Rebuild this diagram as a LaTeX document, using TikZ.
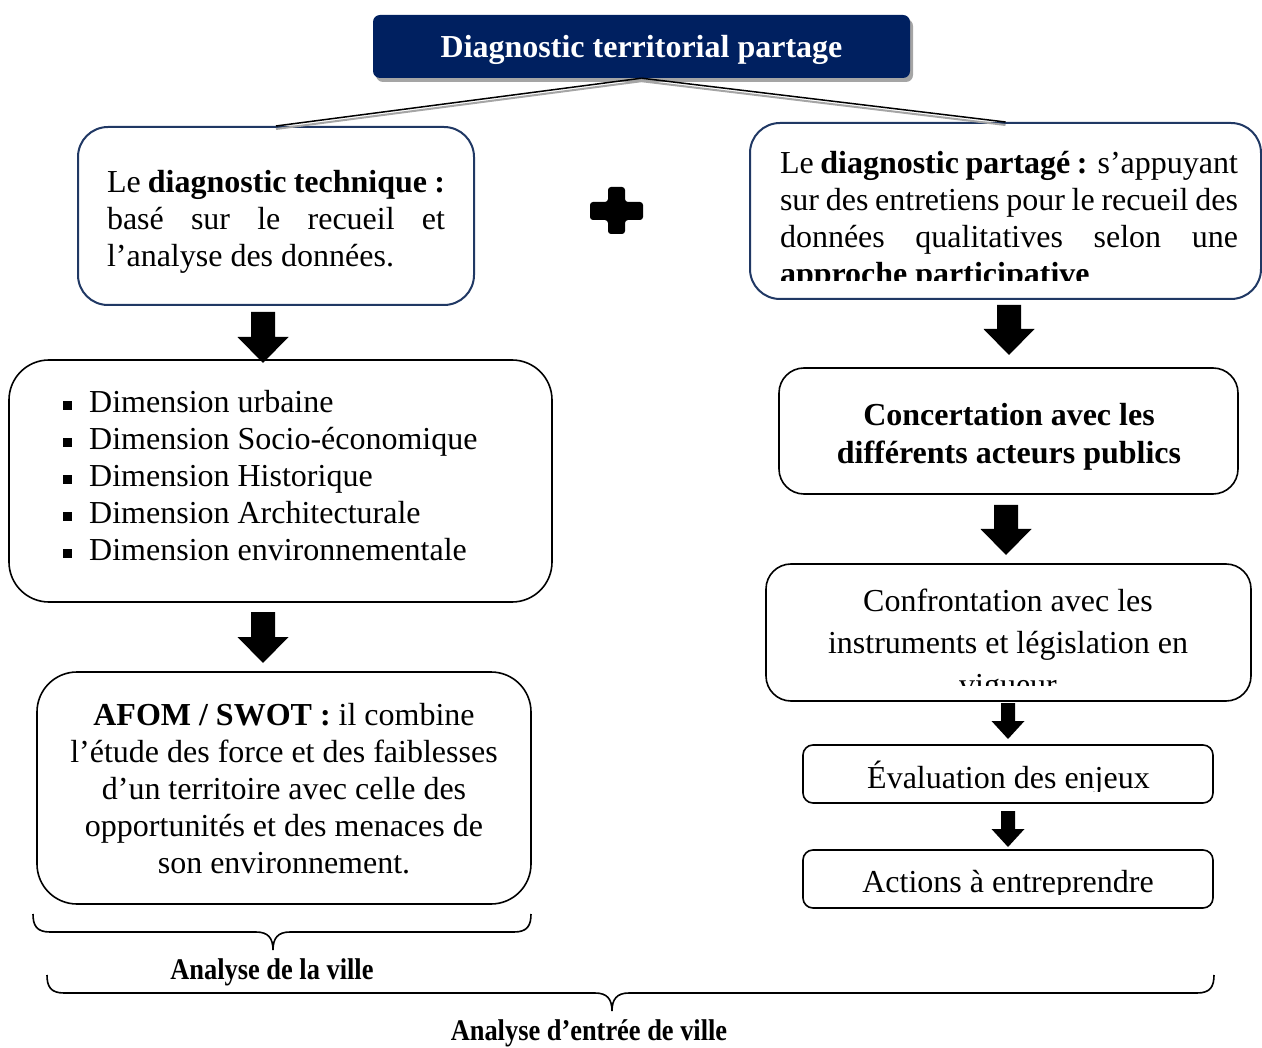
\documentclass[tikz,border=0pt]{standalone}
\usepackage{fontspec}
\setmainfont{Liberation Serif}
\newfontfamily\condfont[FakeStretch=0.88]{Liberation Serif}
\usetikzlibrary{calc}
\definecolor{navy}{RGB}{0,32,96}
\definecolor{boxblue}{RGB}{32,56,100}
\definecolor{shadowgray}{RGB}{165,165,165}
\newcommand\blockarrow[5]{%
  \fill let \p1=(#1), \p2=(#2) in
    (\x1-#3,\y1) -- (\x1+#3,\y1) -- (\x1+#3,\y2+#5) -- (\x1+#4,\y2+#5)
    -- (\x2,\y2) -- (\x1-#4,\y2+#5) -- (\x1-#3,\y2+#5) -- cycle;}
\newcommand\sqbul{\rule[2.5pt]{9pt}{9pt}\hspace{17pt}}
\begin{document}
\begin{tikzpicture}[x=1pt,y=-1pt,
  navybox/.style={draw=boxblue,line width=2pt,rounded corners=30pt,inner sep=0pt},
  plainbox/.style={draw=black,line width=1.6pt,rounded corners=#1,inner sep=0pt},
  body/.style={inner sep=0pt,font=\fontsize{32}{37}\selectfont},
  link/.style={draw=black,line width=1.5pt},
  linkshadow/.style={draw=shadowgray,line width=2pt},
  bracepath/.style={draw=black,line width=1.6pt},
  bracelabel/.style={inner sep=0pt,font=\condfont\bfseries\fontsize{30}{34}\selectfont}
]
\useasboundingbox (0,0) rectangle (1262,1048);

% title
\fill[shadowgray,rounded corners=7pt] (376,19) rectangle (913,82);
\node[fill=navy,rounded corners=7pt,minimum width=537pt,minimum height=63pt,inner sep=0pt] (title) at (641.5,46.5) {};
\node[inner sep=0pt,anchor=base,text=white,font=\bfseries\fontsize{32}{38}\selectfont] (titletxt) at (641.5,58) {Diagnostic territorial partage};

% top boxes
\node[navybox,minimum width=396pt,minimum height=178pt] (tech) at (276,216) {};
\node[navybox,minimum width=511pt,minimum height=176pt] (part) at (1005.5,211) {};

% connectors from the title
\draw[linkshadow] ([yshift=-3pt]title.south) -- ([yshift=-3pt]tech.north);
\draw[linkshadow] ([yshift=-3pt]title.south) -- ([yshift=-3pt]part.north);
\draw[link] (title.south) -- (tech.north);
\draw[link] (title.south) -- (part.north);

\node[body,text width=338pt,align=justify] (techtxt) at (276,222)
  {\tolerance=10000\emergencystretch=60pt Le \textbf{diagnostic technique~:}\linebreak basé sur le recueil et\linebreak l’analyse des données.};

\begin{scope}
  \clip (752,125) rectangle (1259,281);
  \node[body,text width=458pt,align=justify] (parttxt) at (1009,221)
  {\tolerance=10000\emergencystretch=60pt Le \textbf{diagnostic partagé~:} s’appuyant\linebreak sur des entretiens pour le recueil des\linebreak données qualitatives selon une\linebreak \textbf{approche participative}};
\end{scope}

% plus sign
\fill[rounded corners=3pt] (608,187) -- (625,187) -- (625,202) -- (643,202) -- (643,220) -- (625,220)
  -- (625,234) -- (608,234) -- (608,220) -- (590,220) -- (590,202) -- (608,202) -- cycle;

% left column
\coordinate (a1s) at (263,312); \coordinate (a1e) at (263,363);
\blockarrow{a1s}{a1e}{12pt}{25.5pt}{26pt}

\node[plainbox=40pt,minimum width=543pt,minimum height=242pt] (dims) at (280.5,481) {};
\node[body,align=left,anchor=west,font=\fontsize{32}{36.8}\selectfont] (dimtxt) at (63,475.5)
  {\sqbul Dimension urbaine\\ \sqbul Dimension Socio-économique\\ \sqbul Dimension Historique\\
   \sqbul Dimension Architecturale\\ \sqbul Dimension environnementale};

\coordinate (a2s) at (263,612); \coordinate (a2e) at (263,663);
\blockarrow{a2s}{a2e}{12pt}{25.5pt}{26pt}

\node[plainbox=40pt,minimum width=494pt,minimum height=232pt] (afom) at (284,788) {};
\node[body,align=center] (afomtxt) at (284,789)
  {\textbf{AFOM / SWOT :} il combine\\ l’étude des force et des faiblesses\\ d’un territoire avec celle des\\
   opportunités et des menaces de\\ son environnement.};

% right column
\coordinate (r1s) at (1009,305); \coordinate (r1e) at (1009,355);
\blockarrow{r1s}{r1e}{12pt}{25.5pt}{26pt}

\node[plainbox=25pt,minimum width=459pt,minimum height=126pt] (conc) at (1008.5,431) {};
\node[body,align=center,font=\bfseries\fontsize{32}{38}\selectfont] (conctxt) at (1009,437)
  {Concertation avec les\\ différents acteurs publics};

\coordinate (r2s) at (1006,505); \coordinate (r2e) at (1006,555);
\blockarrow{r2s}{r2e}{12pt}{25.5pt}{26pt}

\node[plainbox=25pt,minimum width=485pt,minimum height=137pt] (conf) at (1008.5,632.5) {};
\begin{scope}
  \clip (768,566) rectangle (1249,685);
  \node[body,align=center,font=\fontsize{32}{42}\selectfont] (conftxt) at (1008,646)
  {Confrontation avec les\\ instruments et législation en\\ vigueur};
\end{scope}

\coordinate (r3s) at (1008,703); \coordinate (r3e) at (1008,739);
\blockarrow{r3s}{r3e}{7pt}{16.5pt}{18pt}

\node[plainbox=10pt,minimum width=410pt,minimum height=58pt] (eval) at (1008,774) {};
\begin{scope}
  \clip (805,747) rectangle (1211,791);
  \node[body,anchor=base] (evaltxt) at (1008.5,788.5) {Évaluation des enjeux};
\end{scope}

\coordinate (r4s) at (1008,811); \coordinate (r4e) at (1008,847);
\blockarrow{r4s}{r4e}{7pt}{16.5pt}{18pt}

\node[plainbox=10pt,minimum width=410pt,minimum height=58pt] (act) at (1008,879) {};
\begin{scope}
  \clip (805,852) rectangle (1211,894);
  \node[body,anchor=base] (acttxt) at (1008,892.5) {Actions à entreprendre};
\end{scope}

% braces
\draw[bracepath] (33,914) .. controls (33,926) and (37,932) .. (50,932) -- (256,932)
  .. controls (268,932) and (273,938) .. (273,950) .. controls (273,938) and (278,932) .. (290,932)
  -- (514,932) .. controls (527,932) and (531,926) .. (531,914);
\node[bracelabel] (lab1) at (272,972) {Analyse de la ville};

\draw[bracepath] (47,975) .. controls (47,987) and (51,993) .. (64,993) -- (595,993)
  .. controls (607,993) and (612,999) .. (612,1011) .. controls (612,999) and (617,993) .. (629,993)
  -- (1197,993) .. controls (1210,993) and (1214,987) .. (1214,975);
\node[bracelabel] (lab2) at (589,1033) {Analyse d’entrée de ville};
\end{tikzpicture}
\end{document}
